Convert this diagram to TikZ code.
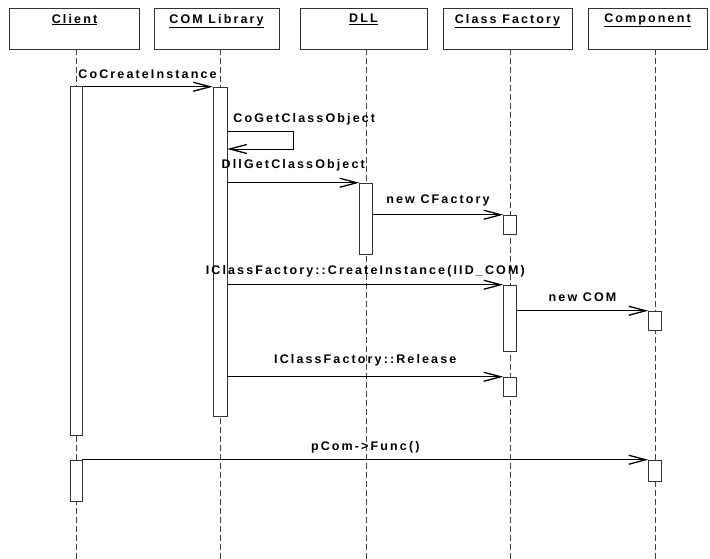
\documentclass[tikz,border=0pt]{standalone}
\usepackage{fontspec}
\setmainfont{Liberation Sans}[LetterSpace=17]
\usetikzlibrary{arrows.meta}
\begin{document}
\begin{tikzpicture}[x=1pt, y=-1pt, every node/.style={font=\fontsize{12.5}{14}\selectfont\bfseries},
	>={Straight Barb[length=17pt, width=9pt, line width=1.3pt]},
	head/.style={draw=black!80, line width=0.5pt, minimum height=41pt, inner sep=0pt},
	title/.style={anchor=north, yshift=-4pt, inner sep=2pt},
	life/.style={draw=black!75, line width=0.5pt, dash pattern=on 6pt off 3pt},
	act/.style={draw=black!80, fill=white, line width=0.5pt, inner sep=0pt, minimum width=13pt},
	msg/.style={->, line width=0.6pt},
	lbl/.style={midway, above=#1, inner sep=1pt}, lbl/.default=7pt]
	\useasboundingbox (0,0) rectangle (710,559);
	\coordinate (bottom) at (0,559);
	\node[head, minimum width=130pt] (cli) at (74.5,28.5) {};
	\node[head, minimum width=125pt] (com) at (216.5,28.5) {};
	\node[head, minimum width=127pt] (dll) at (363.5,28.5) {};
	\node[head, minimum width=129pt] (cf) at (507.5,28.5) {};
	\node[head, minimum width=119pt] (cmp) at (647.5,28.5) {};
	\node[title] (tCli) at (cli.north) {\underline{Client}};
	\node[title] (tCom) at (com.north) {\underline{COM Library}};
	\node[title] (tDll) at (dll.north) {\underline{DLL}};
	\node[title] (tCf) at (cf.north) {\underline{Class Factory}};
	\node[title] (tCmp) at (cmp.north) {\underline{Component}};
	\coordinate (xCli) at (76,0);
	\coordinate (xCom) at (220,0);
	\coordinate (xDll) at (366,0);
	\coordinate (xCf) at (510,0);
	\coordinate (xCmp) at (655,0);
	\draw[life] (cli.south -| xCli) -- (bottom -| xCli);
	\draw[life] (com.south -| xCom) -- (bottom -| xCom);
	\draw[life] (dll.south -| xDll) -- (bottom -| xDll);
	\draw[life] (cf.south -| xCf) -- (bottom -| xCf);
	\draw[life] (cmp.south -| xCmp) -- (bottom -| xCmp);
	\node[act, minimum width=12pt, minimum height=349pt] (aCli1) at (76,260.5) {};
	\node[act, minimum width=12pt, minimum height=41pt] (aCli2) at (76,480.5) {};
	\node[act, minimum width=14pt, minimum height=329pt] (aCom1) at (220,251.5) {};
	\node[act, minimum height=71pt] (aDll1) at (366,218.5) {};
	\node[act, minimum height=19pt] (aCf1) at (510,224.5) {};
	\node[act, minimum height=66pt] (aCf2) at (510,318) {};
	\node[act, minimum height=19pt] (aCf3) at (510,386.5) {};
	\node[act, minimum height=19pt] (aCmp1) at (655,320.5) {};
	\node[act, minimum height=21pt] (aCmp2) at (655,470.5) {};
	\draw[msg] (aCli1.east |- aCom1.north west) -- (aCom1.north west) node[lbl] {CoCreateInstance};
	\coordinate (loopA) at (293,131);
	\coordinate (loopB) at (293,149);
	\draw[msg] (aCom1.east |- loopA) -- (loopA) -- (loopB) -- (aCom1.east |- loopB);
	\node[anchor=south west, inner sep=1pt] (lGet) at ([xshift=5pt, yshift=5pt]aCom1.east |- loopA) {CoGetClassObject};
	\draw[msg] (aCom1.east |- aDll1.north west) -- (aDll1.north west) node[lbl=10pt] {DllGetClassObject};
	\draw[msg] (aDll1.east |- aCf1.north west) -- (aCf1.north west) node[lbl] {new CFactory};
	\draw[msg] (aCom1.east |- aCf2.north west) -- (aCf2.north west) node[lbl=6pt] {IClassFactory::CreateInstance(IID\_COM)};
	\draw[msg] (aCf2.east |- aCmp1.north west) -- (aCmp1.north west) node[lbl=7.5pt] {new COM};
	\draw[msg] (aCom1.east |- aCf3.north west) -- (aCf3.north west) node[lbl=9pt] {IClassFactory::Release};
	\draw[msg] (aCli2.north east) -- (aCmp2.north west) node[lbl=5pt] {pCom->Func()};
\end{tikzpicture}
\end{document}
